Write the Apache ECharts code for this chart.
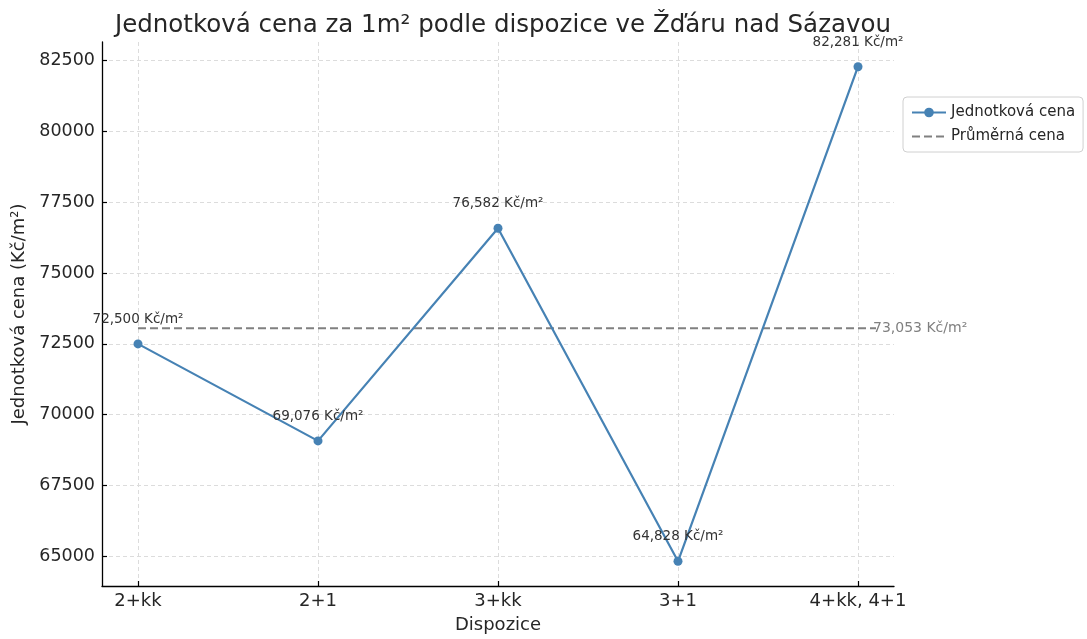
<!DOCTYPE html>
<html>
<head>
<meta charset="utf-8">
<script src="https://cdn.jsdelivr.net/npm/echarts@6/dist/echarts.min.js"></script>
<style>
  html, body { margin: 0; padding: 0; background: #ffffff; }
  #chart { width: 1087px; height: 639px; }
</style>
</head>
<body>
<div id="chart"></div>
<script>
// ---- data ----
const categories = ['2+kk', '2+1', '3+kk', '3+1', '4+kk, 4+1'];
const unitPrices = [72500, 69076, 76582, 64828, 82281];
const yTicks = [65000, 67500, 70000, 72500, 75000, 77500, 80000, 82500];
const seriesNames = ['Jednotková cena', 'Průměrná cena'];
const titleText = 'Jednotková cena za 1m² podle dispozice ve Žďáru nad Sázavou';
const xAxisName = 'Dispozice';
const yAxisName = 'Jednotková cena (Kč/m²)';

// ---- derived ----
const meanPrice = unitPrices.reduce((a, b) => a + b, 0) / unitPrices.length;
const fmt = v => Math.round(v).toLocaleString('en-US') + ' Kč/m²';
const idx = categories.map((c, i) => i);
const xPad = 0.05 * (categories.length - 1);
const minV = Math.min(...unitPrices), maxV = Math.max(...unitPrices);
const yPad = 0.05 * (maxV - minV);

const FONT = 'DejaVu Sans';
const chart = echarts.init(document.getElementById('chart'), null, { renderer: 'canvas' });

const option = {
  backgroundColor: '#ffffff',
  animation: false,
  textStyle: { fontFamily: FONT },
  title: {
    text: titleText,
    left: 498, top: 8, textAlign: 'center',
    textStyle: { fontFamily: FONT, fontSize: 24.5, fontWeight: 'normal', color: '#262626' }
  },
  legend: {
    data: seriesNames,
    orient: 'vertical',
    left: 903, top: 97,
    padding: [8, 8, 8, 8],
    itemGap: 9,
    itemWidth: 34, itemHeight: 12,
    backgroundColor: '#ffffff',
    borderColor: '#d0d0d0', borderWidth: 1, borderRadius: 4,
    textStyle: { fontFamily: FONT, fontSize: 15, color: '#262626' }
  },
  grid: { left: 102, right: 193, top: 42, bottom: 49, containLabel: false },
  xAxis: {
    type: 'value',
    min: -xPad, max: categories.length - 1 + xPad,
    name: xAxisName, nameLocation: 'middle', nameGap: 30,
    nameTextStyle: { fontFamily: FONT, fontSize: 18, color: '#262626' },
    axisLine: { show: true, onZero: false, lineStyle: { color: '#000', width: 1.3 } },
    axisTick: { show: true, inside: true, length: 5, customValues: idx, lineStyle: { color: '#000', width: 1.2 } },
    axisLabel: {
      customValues: idx, margin: 6,
      formatter: v => categories[Math.round(v)],
      fontFamily: FONT, fontSize: 18, color: '#262626'
    },
    splitLine: { show: true, lineStyle: { color: '#dcdcdc', type: [4, 3], width: 1 } }
  },
  yAxis: {
    type: 'value',
    min: minV - yPad, max: maxV + yPad,
    name: yAxisName, nameLocation: 'middle', nameGap: 70,
    nameTextStyle: { fontFamily: FONT, fontSize: 18, color: '#262626' },
    axisLine: { show: true, onZero: false, lineStyle: { color: '#000', width: 1.3 } },
    axisTick: { show: true, inside: true, length: 5, customValues: yTicks, lineStyle: { color: '#000', width: 1.2 } },
    axisLabel: {
      customValues: yTicks, margin: 7,
      formatter: v => String(Math.round(v)),
      fontFamily: FONT, fontSize: 17.5, color: '#262626'
    },
    splitLine: { show: true, lineStyle: { color: '#dcdcdc', type: [4, 3], width: 1 } }
  },
  series: [
    {
      name: seriesNames[0],
      type: 'line',
      data: unitPrices.map((v, i) => [i, v]),
      color: '#4682B4',
      lineStyle: { color: '#4682B4', width: 2.2 },
      symbol: 'circle', symbolSize: 9,
      itemStyle: { color: '#4682B4' },
      label: {
        show: true, position: 'top', distance: 13,
        formatter: p => fmt(p.value[1]),
        fontFamily: FONT, fontSize: 13.5, color: '#333333'
      },
      z: 3
    },
    {
      name: seriesNames[1],
      type: 'line',
      data: [[0, meanPrice], [categories.length - 1 + xPad / 2, meanPrice]],
      color: '#808080',
      lineStyle: { color: '#808080', width: 2, type: [8, 4] },
      itemStyle: { color: '#808080', opacity: 0 },
      symbol: 'none',
      silent: true,
      endLabel: {
        show: true, distance: -3,
        formatter: () => fmt(meanPrice),
        fontFamily: FONT, fontSize: 14, color: '#808080', opacity: 1
      },
      z: 2
    }
  ]
};
chart.setOption(option);
</script>
</body>
</html>
